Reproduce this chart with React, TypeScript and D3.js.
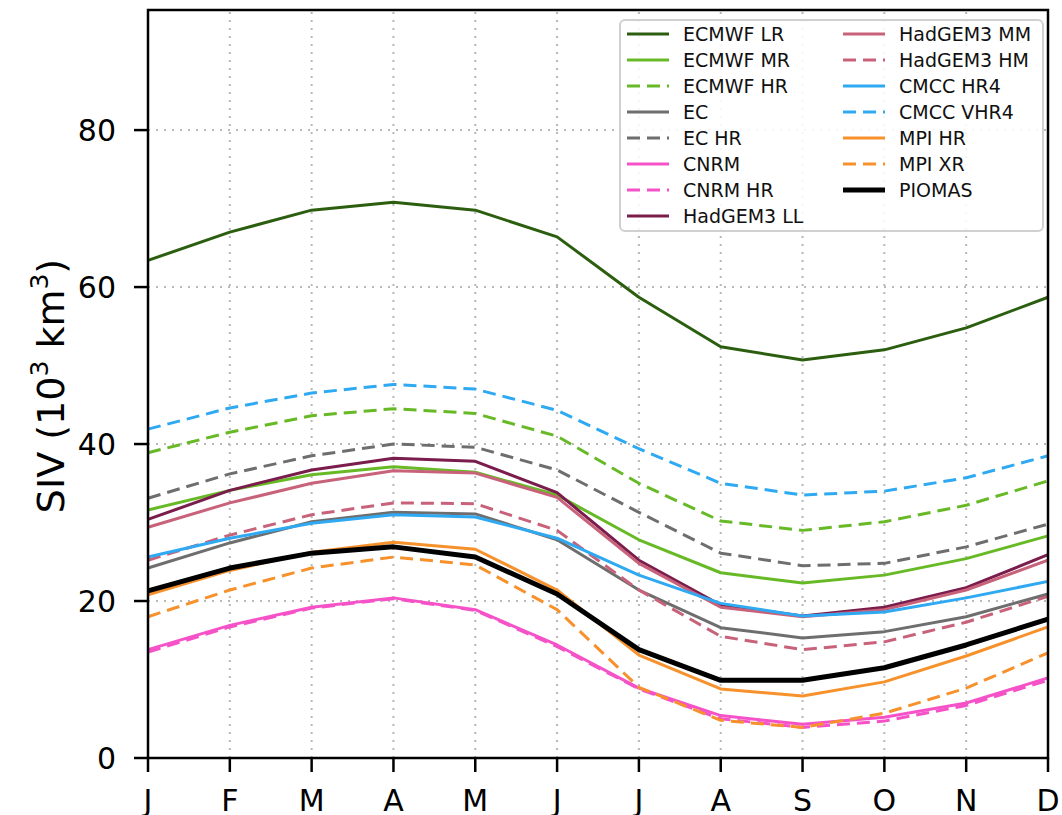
import React from 'react';
import * as d3 from 'd3';

const months = ['J', 'F', 'M', 'A', 'M', 'J', 'J', 'A', 'S', 'O', 'N', 'D'];
const yTicks = [0, 20, 40, 60, 80];

const ecmwfLR = [63.4, 67.0, 69.8, 70.8, 69.8, 66.4, 58.7, 52.4, 50.7, 52.0, 54.8, 58.7];
const ecmwfMR = [31.6, 34.1, 36.1, 37.1, 36.4, 33.5, 27.8, 23.6, 22.3, 23.3, 25.4, 28.3];
const ecmwfHR = [38.9, 41.5, 43.6, 44.5, 43.9, 41.0, 35.0, 30.2, 29.0, 30.1, 32.2, 35.3];
const ec = [24.2, 27.4, 30.1, 31.3, 31.1, 27.8, 21.4, 16.6, 15.3, 16.1, 18.0, 20.9];
const ecHR = [33.1, 36.2, 38.5, 40.0, 39.6, 36.7, 31.3, 26.1, 24.5, 24.8, 26.9, 29.8];
const cnrm = [13.8, 16.9, 19.2, 20.4, 18.9, 14.4, 8.9, 5.4, 4.3, 5.2, 7.0, 10.2];
const cnrmHR = [13.5, 16.7, 19.1, 20.3, 18.8, 14.2, 8.8, 5.0, 3.9, 4.7, 6.7, 9.9];
const hadLL = [30.4, 34.1, 36.7, 38.2, 37.8, 33.8, 25.2, 19.5, 18.1, 19.2, 21.7, 25.9];
const hadMM = [29.4, 32.5, 35.0, 36.6, 36.3, 33.2, 24.8, 19.2, 18.0, 18.9, 21.4, 25.2];
const hadHM = [25.2, 28.4, 31.0, 32.5, 32.4, 29.0, 21.4, 15.5, 13.8, 14.8, 17.3, 20.6];
const cmccHR4 = [25.6, 28.0, 29.9, 31.0, 30.7, 28.0, 23.3, 19.7, 18.1, 18.6, 20.4, 22.5];
const cmccVHR4 = [41.9, 44.6, 46.5, 47.6, 47.0, 44.3, 39.4, 35.0, 33.5, 34.0, 35.7, 38.5];
const mpiHR = [20.8, 23.9, 26.2, 27.5, 26.6, 21.4, 13.1, 8.8, 7.9, 9.7, 13.0, 16.7];
const mpiXR = [18.0, 21.4, 24.2, 25.6, 24.6, 18.9, 9.0, 4.8, 3.9, 5.7, 8.9, 13.4];
const piomas = [21.3, 24.2, 26.1, 26.9, 25.6, 20.9, 13.8, 9.9, 9.9, 11.5, 14.4, 17.7];

// draw order + legend order
const series = [
  { name: 'ECMWF LR', values: ecmwfLR, color: '#2c5e10', dash: false },
  { name: 'ECMWF MR', values: ecmwfMR, color: '#67b926', dash: false },
  { name: 'ECMWF HR', values: ecmwfHR, color: '#67b926', dash: true },
  { name: 'EC', values: ec, color: '#6e6e6e', dash: false },
  { name: 'EC HR', values: ecHR, color: '#6e6e6e', dash: true },
  { name: 'CNRM', values: cnrm, color: '#f652c8', dash: false },
  { name: 'CNRM HR', values: cnrmHR, color: '#f652c8', dash: true },
  { name: 'HadGEM3 LL', values: hadLL, color: '#7a1c4c', dash: false },
  { name: 'HadGEM3 MM', values: hadMM, color: '#c8627a', dash: false },
  { name: 'HadGEM3 HM', values: hadHM, color: '#c8627a', dash: true },
  { name: 'CMCC HR4', values: cmccHR4, color: '#2ea9f2', dash: false },
  { name: 'CMCC VHR4', values: cmccVHR4, color: '#2ea9f2', dash: true },
  { name: 'MPI HR', values: mpiHR, color: '#f7912c', dash: false },
  { name: 'MPI XR', values: mpiXR, color: '#f7912c', dash: true },
  { name: 'PIOMAS', values: piomas, color: '#000000', dash: false, thick: true },
];

const W = 1062, H = 815;
const margin = { left: 148, right: 12, top: 10, bottom: 57 };

export default function App() {
  const x = d3.scaleLinear().domain([0, 11]).range([margin.left, W - margin.right - 2]);
  const y = d3.scaleLinear().domain([0, 95.3]).range([H - margin.bottom, margin.top]);
  const line = d3.line<number>().x((d, i) => x(i)).y(d => y(d));
  const font = 'DejaVu Sans, sans-serif';
  const x0 = x(0), x1 = x(11), y0 = y(0), y1 = y(95.3);

  return (
    <div style={{ position: 'absolute', left: 0, top: 0 }}>
      <svg width={W} height={H} style={{ display: 'block', fontFamily: font }}>
        <rect width={W} height={H} fill="#fff" />
        {/* grid */}
        {months.map((m, i) => (
          <line key={'gx' + i} x1={x(i)} x2={x(i)} y1={y0} y2={y1}
            stroke="#b8b8b8" strokeWidth={2} strokeDasharray="2,6" />
        ))}
        {yTicks.map(t => (
          <line key={'gy' + t} x1={x0} x2={x1} y1={y(t)} y2={y(t)}
            stroke="#b8b8b8" strokeWidth={2} strokeDasharray="2,6" />
        ))}
        {/* lines */}
        {series.map(s => (
          <path key={s.name} d={line(s.values) || ''} fill="none" stroke={s.color}
            strokeWidth={s.thick ? 5 : 3} strokeDasharray={s.dash ? '13,7' : undefined}
            strokeLinejoin="round" />
        ))}
        {/* spines */}
        <rect x={x0} y={y1} width={x1 - x0} height={y0 - y1} fill="none" stroke="#000" strokeWidth={2.5} />
        {/* y axis */}
        {yTicks.map(t => (
          <g key={'yt' + t}>
            <line x1={x0 - 14} x2={x0} y1={y(t)} y2={y(t)} stroke="#000" strokeWidth={2.5} />
            <text x={x0 - 32} y={y(t)} dy="0.36em" textAnchor="end" fontSize={30} fill="#000">{t}</text>
          </g>
        ))}
        {/* x axis */}
        {months.map((m, i) => (
          <g key={'xt' + i}>
            <line x1={x(i)} x2={x(i)} y1={y0} y2={y0 + 14} stroke="#000" strokeWidth={2.5} />
            <text x={x(i)} y={y0 + 53} textAnchor="middle" fontSize={30} fill="#000">{m}</text>
          </g>
        ))}
        {/* y label */}
        <text transform={`translate(64,${(y0 + y1) / 2 + 2}) rotate(-90)`} textAnchor="middle" fontSize={38} fill="#000">
          SIV (10<tspan fontSize={25} dy={-16}>3</tspan><tspan dy={16}> km</tspan><tspan fontSize={25} dy={-16}>3</tspan><tspan dy={16}>)</tspan>
        </text>
        {/* legend */}
        <g>
          <rect x={620} y={20} width={423} height={211} rx={5} fill="#fff" fillOpacity={0.85} stroke="#d0d0d0" strokeWidth={2} />
          {series.map((s, i) => {
            const col = i < 8 ? 0 : 1;
            const row = i < 8 ? i : i - 8;
            const lx = col === 0 ? 627 : 843;
            const ly = 34 + row * 26;
            return (
              <g key={'lg' + s.name}>
                <line x1={lx} x2={lx + 42} y1={ly} y2={ly} stroke={s.color}
                  strokeWidth={s.thick ? 5 : 3} strokeDasharray={s.dash ? '13,7' : undefined} />
                <text x={lx + 56} y={ly} dy="0.36em" fontSize={19} fill="#111">{s.name}</text>
              </g>
            );
          })}
        </g>
      </svg>
    </div>
  );
}
